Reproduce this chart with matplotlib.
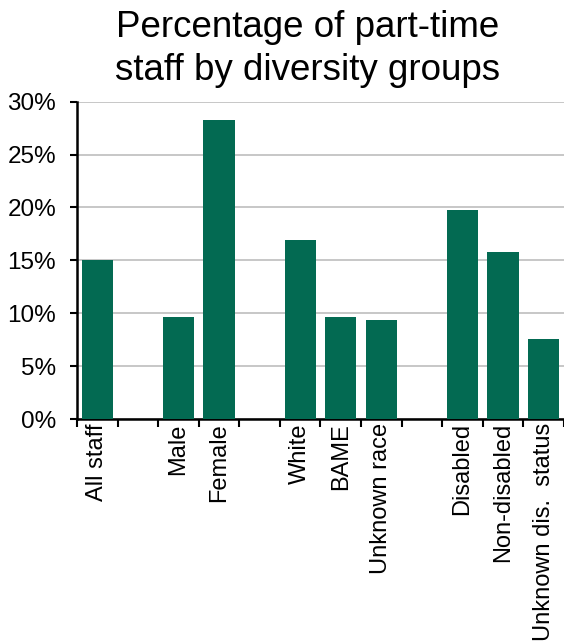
import matplotlib
matplotlib.use("Agg")
import matplotlib.pyplot as plt
import numpy as np
from matplotlib.ticker import FuncFormatter

# categories ('' marks an empty slot between groups)
labels = ['All staff', '', 'Male', 'Female', '', 'White', 'BAME', 'Unknown race',
          '', 'Disabled', 'Non-disabled', 'Unknown dis.  status']
values = [15.0, None, 9.6, 28.3, None, 16.9, 9.6, 9.35, None, 19.75, 15.8, 7.55]

plt.rcParams['font.family'] = ['Liberation Sans', 'DejaVu Sans']

fig = plt.figure(figsize=(5.64, 6.41), dpi=100)
ax = fig.add_axes([0.1365, 0.3463, 0.8635, 0.495])

pos = [i for i, v in enumerate(values) if v is not None]
hts = [v for v in values if v is not None]
ax.bar(pos, hts, width=0.77, color='#036A52', zorder=3)

ax.set_xlim(-0.5, len(labels) - 0.5)
ax.set_ylim(0, 30)
ax.set_yticks(np.arange(0, 31, 5))
ax.yaxis.set_major_formatter(FuncFormatter(lambda v, p: f'{v:.0f}%'))
ax.grid(axis='y', color='#BEBEBE', linewidth=1.2, zorder=0)

# category boundaries get tick marks, labels sit at the centres
ax.set_xticks(np.arange(-0.5, len(labels), 1.0))
ax.set_xticklabels([])
ax.set_xticks(np.arange(len(labels)), minor=True)
ax.set_xticklabels(labels, minor=True, rotation=90, fontsize=17)
ax.tick_params(axis='x', which='minor', length=0, pad=3)
ax.tick_params(axis='x', which='major', length=6, width=1.5, direction='out')
ax.tick_params(axis='y', labelsize=17.5, length=5, width=1.5, pad=10)

for s in ['top', 'right']:
    ax.spines[s].set_visible(False)
ax.spines['left'].set_linewidth(1.8)
ax.spines['bottom'].set_linewidth(1.8)

fig.text(0.545, 0.985, 'Percentage of part-time\nstaff by diversity groups',
         ha='center', va='top', fontsize=26.5, linespacing=1.3)

fig.savefig('out.png', dpi=100)
